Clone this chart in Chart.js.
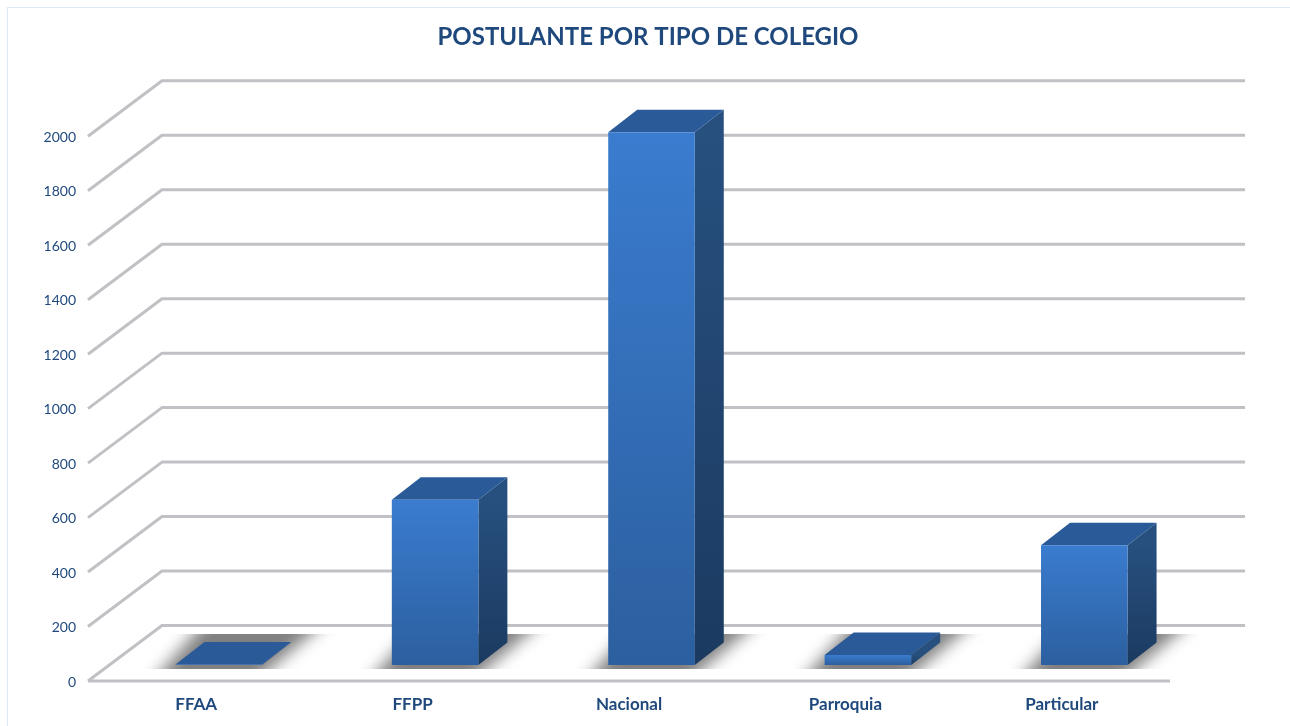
<!DOCTYPE html>
<html>
<head>
<meta charset="utf-8">
<script src="https://cdn.jsdelivr.net/npm/chart.js@4"></script>
<style>
html,body{margin:0;padding:0;background:#fff;width:1290px;height:726px;overflow:hidden}
#frame{position:absolute;left:7px;top:7px;right:-5px;bottom:-5px;border:1.5px solid #dce9f8;pointer-events:none}
canvas{position:absolute;left:0;top:0}
</style>
</head>
<body>
<canvas id="c" width="1290" height="726"></canvas>
<div id="frame"></div>
<script>
const categories = ['FFAA', 'FFPP', 'Nacional', 'Parroquia', 'Particular'];
const postulantes = [2, 607, 1956, 37, 440];
const chartTitle = 'POSTULANTE POR TIPO DE COLEGIO';
const yMin = 0, yMax = 2000, yStep = 200;

const TEXT = '#1f497d', GRID = '#bfc1c4';
const WALL = {x: 74, y: -55.5};     // front edge to back wall
const LIFT = {x: 22.5, y: -16};     // bar footprint relative to the front axis
const DEPTH = {x: 29, y: -22.5};    // bar depth

function liftedGradient(ctx, top, bottom, c1, c2){
  const g = ctx.createLinearGradient(0, top, 0, bottom);
  g.addColorStop(0, c1); g.addColorStop(1, c2);
  return g;
}
function poly(ctx, pts){
  ctx.beginPath();
  pts.forEach((p, i) => i ? ctx.lineTo(p[0], p[1]) : ctx.moveTo(p[0], p[1]));
  ctx.closePath();
}

const depth3d = {
  id: 'depth3d',
  beforeDatasetsDraw(chart){
    const {ctx, chartArea: a, scales: {y}} = chart;
    ctx.save();
    // wall grid lines
    ctx.strokeStyle = GRID; ctx.lineWidth = 3; ctx.lineJoin = 'round';
    y.ticks.forEach(t => {
      const py = y.getPixelForValue(t.value);
      ctx.beginPath();
      ctx.moveTo(a.left, py);
      ctx.lineTo(a.left + WALL.x, py + WALL.y);
      ctx.lineTo(a.right + WALL.x + 1, py + WALL.y);
      ctx.stroke();
    });
    const y0 = y.getPixelForValue(0);
    ctx.beginPath(); ctx.moveTo(a.left, y0); ctx.lineTo(a.right, y0); ctx.stroke();
    // floor shadows
    const bars = chart.getDatasetMeta(0).data;
    const fy = y0 + LIFT.y;
    ctx.save();
    ctx.beginPath(); ctx.rect(a.left, fy - 31, a.right + WALL.x - a.left, 35); ctx.clip();
    ctx.filter = 'blur(8px)';
    ctx.fillStyle = '#808080';
    bars.forEach(b => {
      const l = b.x - b.width / 2 + LIFT.x, r = b.x + b.width / 2 + LIFT.x;
      poly(ctx, [[l - 26, fy + 20], [r - 11, fy + 20], [r + 67, fy - 46], [l + 32, fy - 46]]);
      ctx.fill();
    });
    ctx.restore();
    // side and top faces
    bars.forEach(b => {
      const l = b.x - b.width / 2 + LIFT.x, r = b.x + b.width / 2 + LIFT.x;
      const top = b.y + LIFT.y, bot = b.base + LIFT.y;
      ctx.fillStyle = liftedGradient(ctx, top, bot, '#27507f', '#1b3a60');
      poly(ctx, [[r, top], [r + DEPTH.x, top + DEPTH.y], [r + DEPTH.x, bot + DEPTH.y], [r, bot]]);
      ctx.fill();
      ctx.fillStyle = '#2a5b98';
      poly(ctx, [[l, top], [l + DEPTH.x, top + DEPTH.y], [r + DEPTH.x, top + DEPTH.y], [r, top]]);
      ctx.fill();
    });
    ctx.restore();
    // front faces are the library's own bars, moved on to the lifted footprint
    ctx.save();
    ctx.translate(LIFT.x, LIFT.y);
  },
  afterDatasetsDraw(chart){ chart.ctx.restore(); }
};

new Chart(document.getElementById('c'), {
  type: 'bar',
  data: {
    labels: categories,
    datasets: [{
      data: postulantes,
      barPercentage: 0.4,
      categoryPercentage: 1,
      borderWidth: 0,
      backgroundColor(c){
        const chart = c.chart, y = chart.scales.y;
        if (!chart.chartArea || c.dataIndex === undefined) return '#3a7bcd';
        return liftedGradient(chart.ctx, y.getPixelForValue(postulantes[c.dataIndex]), y.getPixelForValue(0), '#3a7ccf', '#2c5f9f');
      }
    }]
  },
  plugins: [depth3d],
  options: {
    responsive: false,
    animation: false,
    devicePixelRatio: 1,
    layout: {padding: {left: 6, right: 0, top: 0, bottom: 0}},
    plugins: {
      legend: {display: false},
      tooltip: {enabled: false},
      title: {
        display: true,
        text: chartTitle,
        color: TEXT,
        font: {family: 'Lato', size: 24, weight: 'bold'},
        padding: {top: 22.5, bottom: 85}
      }
    },
    scales: {
      x: {
        grid: {display: false, drawTicks: false},
        border: {display: false},
        afterFit(s){ s.height = 45; },
        ticks: {color: TEXT, padding: 13, maxRotation: 0, font: {family: 'Lato', size: 17, weight: 'bold'}}
      },
      y: {
        min: yMin, max: yMax,
        grid: {display: false, drawTicks: false},
        border: {display: false},
        afterFit(s){ s.width = 82; },
        ticks: {stepSize: yStep, color: TEXT, padding: 12, labelOffset: 1, font: {family: 'Lato', size: 14}, callback: v => String(v)}
      },
      gutter: {
        position: 'right',
        display: true,
        grid: {display: false, drawTicks: false},
        border: {display: false},
        ticks: {display: false},
        afterFit(s){ s.width = 120; }
      }
    }
  }
});
</script>
</body>
</html>
